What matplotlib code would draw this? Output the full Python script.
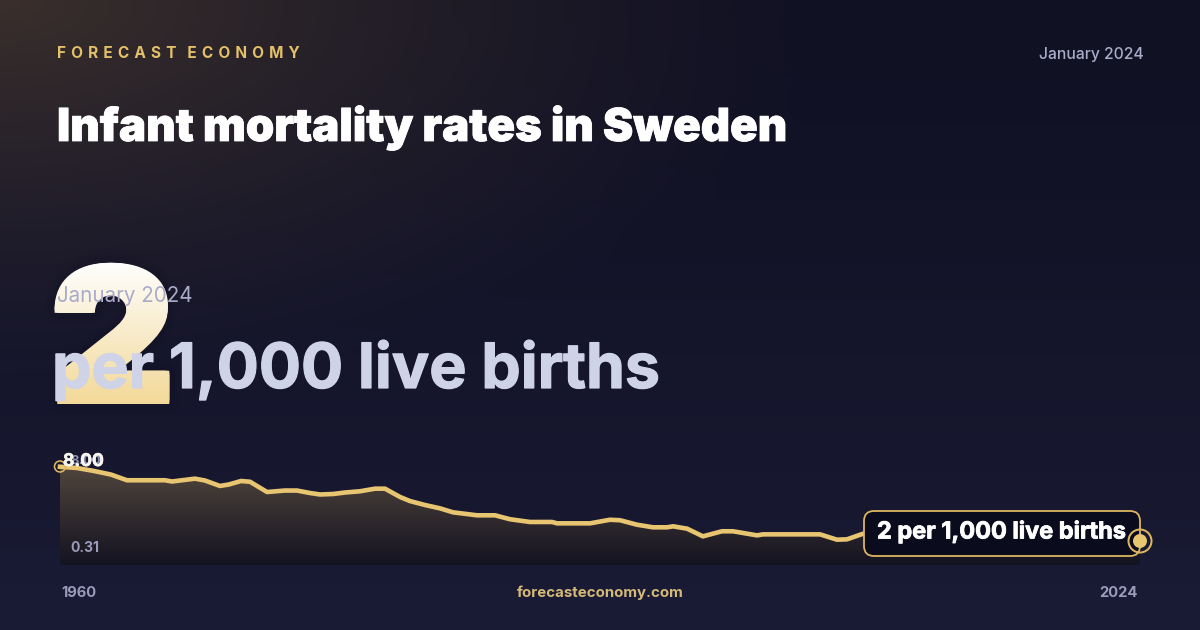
import numpy as np
import matplotlib
matplotlib.use("Agg")
import matplotlib.pyplot as plt
from matplotlib.font_manager import FontProperties
from matplotlib.patches import Circle, FancyBboxPatch, PathPatch, Polygon
from matplotlib.text import TextPath
from matplotlib.transforms import Affine2D
import matplotlib.patheffects as pe

# values (knots of the line, hidden part under the label is a guess)
years = [1960.00, 1961.01, 1962.01, 1963.02, 1963.97, 1966.22, 1966.64, 1968.00, 1968.59, 1969.48,
         1970.01, 1970.73, 1971.26, 1972.27, 1973.33, 1974.04, 1974.81, 1975.41, 1976.18, 1976.89,
         1977.78, 1978.67, 1979.26, 1980.15, 1980.74, 1981.63, 1982.52, 1983.29, 1984.71, 1985.78,
         1986.67, 1987.85, 1989.16, 1989.45, 1991.41, 1992.59, 1993.19, 1994.19, 1995.14, 1995.97,
         1996.33, 1997.16, 1998.10, 1999.23, 1999.88, 2001.30, 2001.66, 2005.04, 2006.04, 2006.64,
         2007.59, 2009.78, 2012.74, 2015.70, 2019.26, 2024.00]
rates = [8.00, 7.90, 7.66, 7.37, 6.91, 6.91, 6.81, 7.04, 6.89, 6.45,
         6.57, 6.85, 6.79, 5.96, 6.08, 6.08, 5.88, 5.76, 5.80, 5.92,
         6.02, 6.23, 6.23, 5.56, 5.23, 4.91, 4.64, 4.32, 4.08, 4.08,
         3.76, 3.54, 3.54, 3.43, 3.43, 3.72, 3.68, 3.32, 3.11, 3.11,
         3.19, 3.00, 2.38, 2.79, 2.79, 2.46, 2.54, 2.54, 2.11, 2.14,
         2.59, 2.65, 2.45, 2.30, 2.20, 2.00]

title = "Infant mortality rates in Sweden"
brand = "\u2004".join("FORECAST") + "   " + "\u2004".join("ECONOMY")
period = "January 2024"
big_value = "2"
unit = "per 1,000 live births"
callout = "2 per 1,000 live births"
site = "forecasteconomy.com"
start_label = "1960"
end_label = "2024"
max_label = "8.00"
min_label = "0.31"

GOLD = "#e8c571"
FONT = "Inter"

plt.rcParams["font.family"] = [FONT, "DejaVu Sans"]

fig = plt.figure(figsize=(12, 6.3), dpi=100)
bg = fig.add_axes([0, 0, 1, 1])
bg.set_xlim(0, 1200)
bg.set_ylim(630, 0)
bg.axis("off")


def px(size):
    return size * 0.72


def heavy(color, width):
    # the font has no heavier cut here, so thicken with a stroke
    return [pe.withStroke(linewidth=px(width), foreground=color)]


# background: dark vertical gradient + warm glow in the top left corner
xx, yy = np.meshgrid(np.arange(1200), np.arange(630))
t = (yy / 630)[..., None] ** 1.4
base = np.array([17, 17, 36]) * (1 - t) + np.array([26, 27, 53]) * t
glow = np.clip(1 - np.hypot(xx / 1.35, yy * 1.6) / 620, 0, 1)[..., None] ** 1.3
img = base + glow * np.array([41, 30, 8])
bg.imshow(img.astype(np.uint8), extent=(0, 1200, 630, 0), aspect="auto", zorder=0)

# header
bg.text(57, 54, brand, color="#e3c069", fontsize=px(15.4), fontweight="bold", va="center", zorder=5)
bg.text(1143.5, 55, period, color="#a9abc9", fontsize=px(15.7), fontweight="medium", ha="right", va="center", zorder=5)
bg.text(57, 141, title, color="white", fontsize=px(45.5), fontweight="black", va="baseline", zorder=5,
        path_effects=heavy("white", 0.8))

# big number, real text below and gradient clipped to a widened copy of the glyph on top
big_size = 186
big_x, big_y = 50, 402
big = bg.text(big_x + 3, big_y, big_value, color="#f3d998", fontsize=px(big_size), fontweight="black",
              va="baseline", zorder=2)
big.set_path_effects([pe.withStroke(linewidth=20, foreground="#08081a", alpha=0.06),
                      pe.withStroke(linewidth=12, foreground="#08081a", alpha=0.08),
                      pe.Normal()])
glyph = TextPath((0, 0), big_value, size=big_size, prop=FontProperties(family=FONT, weight="black"))
grad = np.linspace(0, 1, 150)[:, None, None]
big_img = (np.array([255, 255, 255]) * (1 - grad) + np.array([243, 217, 152]) * grad).astype(np.uint8)
# a few shifted copies thicken the gradient glyph, square offsets keep the corners sharp
for dx, dy in [(0, 0), (-2, -2), (2, -2), (-2, 2), (2, 2), (-2, 0), (2, 0), (0, -2), (0, 2)]:
    patch = PathPatch(glyph, transform=Affine2D().scale(1.04, -1).translate(big_x + dx, big_y + dy) + bg.transData,
                      fc="none", ec="none")
    bg.add_patch(patch)
    im = bg.imshow(big_img, extent=(40, 180, 405, 260), aspect="auto", zorder=3)
    im.set_clip_path(patch)
bg.set_xlim(0, 1200)
bg.set_ylim(630, 0)

bg.text(57, 296, period, color="#a9abc9", fontsize=px(20.6), va="center", zorder=5)
bg.text(52, 388, unit, color="#cfd3e8", fontsize=px(62.5), fontweight="bold", va="baseline", zorder=5,
        path_effects=heavy("#cfd3e8", 1.2))

# footer
bg.text(61.5, 593, start_label, color="#9a9cba", fontsize=px(14.8), fontweight="bold", va="center", zorder=5)
bg.text(1138, 593, end_label, color="#9a9cba", fontsize=px(14.8), fontweight="bold", ha="right", va="center", zorder=5)
bg.text(600, 592.5, site, color="#d4b978", fontsize=px(15), fontweight="bold", ha="center", va="center", zorder=5)

# sparkline
ax = fig.add_axes([60 / 1200, 65 / 630, 1080 / 1200, 105 / 630])
ax.patch.set_alpha(0)
ax.axis("off")
ax.set_xlim(1960, 2024)
ax.set_ylim(0.065, 8.546)

ramp = np.linspace(0, 1, 105)[:, None, None]
fill_img = np.array([84, 72, 62]) * (1 - ramp) + np.array([20, 19, 33]) * ramp
fill = ax.imshow(fill_img.astype(np.uint8), extent=(1960, 2024, 0.065, 8.546), aspect="auto", zorder=1)
outline = Polygon(list(zip(years, rates)) + [(2024, 0.065), (1960, 0.065)], closed=True, fc="none", ec="none",
                  transform=ax.transData)
ax.add_patch(outline)
fill.set_clip_path(outline)
ax.set_xlim(1960, 2024)
ax.set_ylim(0.065, 8.546)
ax.plot(years, rates, color=GOLD, lw=px(4.6), solid_joinstyle="round", clip_on=False, zorder=2)

# overlay labels / markers use the pixel frame on top of the chart
top = fig.add_axes([0, 0, 1, 1])
top.patch.set_alpha(0)
top.axis("off")
top.set_xlim(0, 1200)
top.set_ylim(630, 0)

top.add_patch(Circle((60, 466.5), 5.5, fc="none", ec="#dcb65f", lw=px(1.6)))
top.text(70, 461.5, max_label, color="#8f91b0", fontsize=px(13), fontweight="bold", va="center")
top.text(63, 461.5, max_label, color="#f7f5ee", fontsize=px(17.5), fontweight="bold", va="center",
         path_effects=heavy("#f7f5ee", 0.6))
top.text(70, 547.5, min_label, color="#9a9cba", fontsize=px(14), fontweight="bold", va="center")

box = FancyBboxPatch((864, 511), 276, 45, boxstyle="round,pad=0,rounding_size=10",
                     fc="#0a0b1c", ec="#dcb65f", lw=px(1.8), zorder=4)
top.add_patch(box)
top.text(877, 532, callout, color="white", fontsize=px(23.5), fontweight="bold", va="center", zorder=5,
         path_effects=heavy("white", 0.8))
top.add_patch(Circle((1140, 541), 11.5, fc="none", ec="#dcb65f", lw=px(2), zorder=6))
top.add_patch(Circle((1140, 541), 7, fc=GOLD, ec="none", zorder=7))

fig.savefig("out.png", dpi=100)
